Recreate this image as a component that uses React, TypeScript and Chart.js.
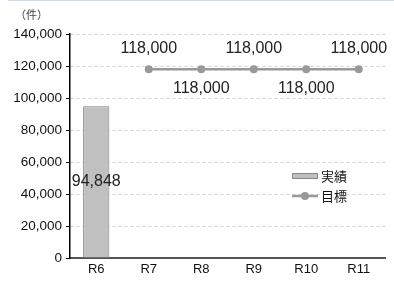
import React, { useEffect, useRef } from "react";
import { Chart, registerables } from "chart.js";

Chart.register(...registerables);

const categories = ["R6", "R7", "R8", "R9", "R10", "R11"];
const actualValues: (number | null)[] = [94848, null, null, null, null, null];
const targetValues: (number | null)[] = [null, 118000, 118000, 118000, 118000, 118000];
const yTicks = [0, 20000, 40000, 60000, 80000, 100000, 120000, 140000];
const seriesNames = ["実績", "目標"];
const unitLabel = "（件）";

const FONT = "'Liberation Sans', Arial, 'Noto Sans CJK JP', sans-serif";

const labelPlugin = {
  id: "customLabels",
  afterDatasetsDraw(chart: any) {
    const ctx = chart.ctx;
    ctx.save();
    ctx.font = `16px ${FONT}`;
    ctx.fillStyle = "#222";
    ctx.textAlign = "center";
    ctx.textBaseline = "middle";
    const barMeta = chart.getDatasetMeta(0);
    barMeta.data.forEach((el: any, i: number) => {
      const v = actualValues[i];
      if (v == null) return;
      const mid = (el.y + el.base) / 2;
      ctx.fillText(v.toLocaleString("en-US"), el.x, mid);
    });
    const lineMeta = chart.getDatasetMeta(1);
    let k = 0;
    lineMeta.data.forEach((el: any, i: number) => {
      const v = targetValues[i];
      if (v == null) return;
      const dy = k % 2 === 0 ? -21 : 19;
      ctx.fillText(v.toLocaleString("en-US"), el.x, el.y + dy);
      k++;
    });
    ctx.font = `11px ${FONT}`;
    ctx.fillStyle = "#444";
    ctx.textAlign = "left";
    ctx.fillText(unitLabel, 15, 16);
    const lx = 292;
    ctx.font = `13px 'Noto Sans CJK JP', sans-serif`;
    ctx.fillStyle = "#c0c0c0";
    ctx.fillRect(lx, 173, 26, 6);
    ctx.strokeStyle = "#888";
    ctx.lineWidth = 1;
    ctx.strokeRect(lx + 0.5, 173.5, 25, 5);
    ctx.fillStyle = "#111";
    ctx.fillText(seriesNames[0], lx + 29, 176);
    ctx.strokeStyle = "#999";
    ctx.lineWidth = 2.5;
    ctx.beginPath();
    ctx.moveTo(lx, 196);
    ctx.lineTo(lx + 26, 196);
    ctx.stroke();
    ctx.fillStyle = "#999";
    ctx.beginPath();
    ctx.arc(lx + 13, 196, 4, 0, Math.PI * 2);
    ctx.fill();
    ctx.fillStyle = "#111";
    ctx.fillText(seriesNames[1], lx + 29, 196);
    ctx.restore();
  },
};

export default function App() {
  const ref = useRef<HTMLCanvasElement>(null);
  useEffect(() => {
    document.body.style.margin = "0";
    const chart = new Chart(ref.current!, {
      type: "bar",
      data: {
        labels: categories,
        datasets: [
          {
            type: "bar",
            label: seriesNames[0],
            data: actualValues,
            backgroundColor: "#c0c0c0",
            borderColor: "#808080",
            borderWidth: 1,
            categoryPercentage: 1,
            barPercentage: 0.5,
            grouped: false,
          } as any,
          {
            type: "line",
            label: seriesNames[1],
            data: targetValues,
            borderColor: "#999999",
            backgroundColor: "#999999",
            borderWidth: 2.5,
            pointRadius: 4,
            pointBackgroundColor: "#999999",
            pointBorderWidth: 0,
            spanGaps: false,
          } as any,
        ],
      },
      options: {
        animation: false,
        responsive: false,
        layout: { padding: { left: 0, top: 34, right: 9, bottom: 0 } },
        plugins: { legend: { display: false }, tooltip: { enabled: false } },
        scales: {
          x: {
            grid: { display: false, drawTicks: false },
            border: { color: "#555", width: 2 },
            ticks: { font: { size: 13, family: FONT }, color: "#111", padding: 4 },
            afterFit: (s: any) => {
              s.height = 27;
            },
          },
          y: {
            min: 0,
            max: 140000,
            afterBuildTicks: (s: any) => {
              s.ticks = yTicks.map((v) => ({ value: v }));
            },
            grid: {
              color: "#d0d0d0",
              tickColor: "#000",
              tickLength: 4,
              tickBorderDash: [0, 0],
            } as any,
            border: { color: "#000", width: 1.5, dash: [3, 3] } as any,
            ticks: {
              font: { size: 13.5, family: FONT },
              color: "#111",
              padding: 4,
              callback: (v: any) => Number(v).toLocaleString("en-US"),
            },
            afterFit: (s: any) => {
              s.width = 70;
            },
          },
        },
      },
      plugins: [labelPlugin],
    });
    return () => chart.destroy();
  }, []);
  return (
    <div style={{ position: "relative", width: 394, height: 285 }}>
      <div style={{ position: "absolute", left: 8, right: 0, top: 0, height: 1, background: "#c8dcf0" }} />
      <canvas ref={ref} width={394} height={285} />
    </div>
  );
}
